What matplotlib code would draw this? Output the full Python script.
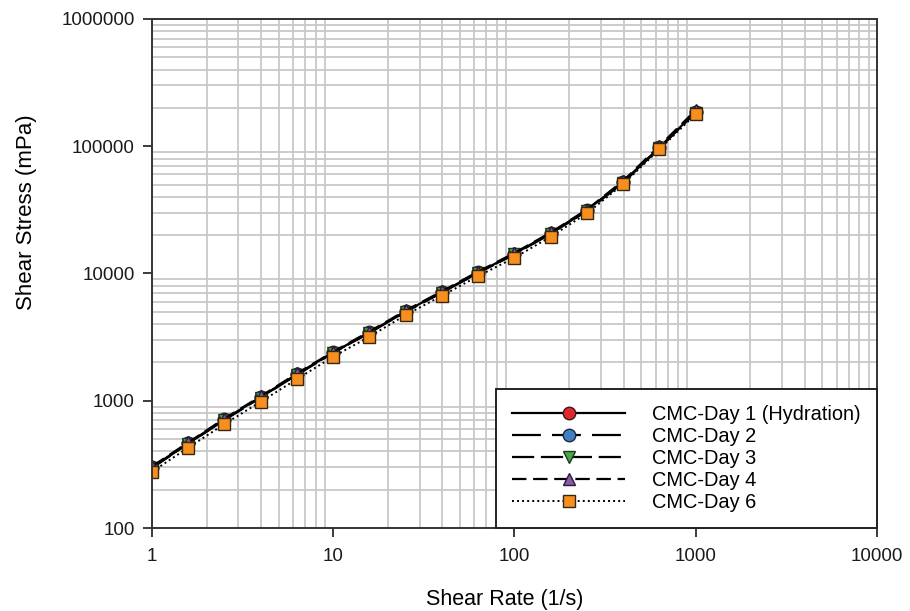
import matplotlib
matplotlib.use("Agg")
import matplotlib.pyplot as plt
from matplotlib.ticker import LogLocator, FixedLocator, NullFormatter

plt.rcParams['font.family'] = ['Liberation Sans', 'DejaVu Sans']

# shear rate (1/s)
rate = [1, 1.585, 2.512, 3.981, 6.31, 10, 15.85, 25.12, 39.81, 63.1,
        100, 158.5, 251.2, 398.1, 631, 1000]

# shear stress (mPa)
day1 = [300, 465, 715, 1070, 1620, 2400, 3450, 5050, 7150, 10200,
        14300, 20800, 31500, 52500, 98000, 186000]
day2 = [298, 462, 710, 1065, 1610, 2390, 3430, 5020, 7100, 10150,
        14200, 20600, 31200, 52000, 97500, 185000]
day3 = [296, 460, 705, 1060, 1600, 2380, 3420, 5000, 7080, 10100,
        14150, 20500, 31000, 51800, 97000, 184000]
day4 = [305, 470, 725, 1085, 1640, 2430, 3500, 5120, 7250, 10350,
        14500, 21000, 31800, 53500, 100500, 192000]
day6 = [277, 428, 656, 983, 1480, 2220, 3190, 4720, 6690, 9550,
        13300, 19450, 29700, 50500, 94600, 179000]

labels = ['CMC-Day 1 (Hydration)', 'CMC-Day 2', 'CMC-Day 3', 'CMC-Day 4', 'CMC-Day 6']

fig = plt.figure(figsize=(9.1, 6.11), dpi=100)
ax = fig.add_axes([0.167, 0.1358, 0.7967, 0.8332])

lw = 1.6
ax.plot(rate, day1, color='black', lw=lw, marker='o', ms=9,
        mfc='#e3262b', mec='#3a1a1a', mew=1.0, label=labels[0])
ax.plot(rate, day2, color='black', lw=lw, dashes=(13, 5), marker='o', ms=9,
        mfc='#3f7fc2', mec='#1c2a3a', mew=1.0, label=labels[1])
ax.plot(rate, day3, color='black', lw=lw, dashes=(10, 3), marker='v', ms=9,
        mfc='#45a84b', mec='#1c3a1c', mew=1.0, label=labels[2])
ax.plot(rate, day4, color='black', lw=lw, dashes=(6.5, 3), marker='^', ms=9,
        mfc='#8a5aa6', mec='#2a1a3a', mew=1.0, label=labels[3])
ax.plot(rate, day6, color='black', lw=1.4, dashes=(1, 1.6), marker='s', ms=9,
        mfc='#f5901e', mec='#3a2410', mew=1.0, label=labels[4])

ax.set_xscale('log')
ax.set_yscale('log')
ax.set_xlim(1, 10000)
ax.set_ylim(100, 1000000)

ax.xaxis.set_major_locator(FixedLocator([1, 10, 100, 1000, 10000]))
ax.yaxis.set_major_locator(FixedLocator([100, 1000, 10000, 100000, 1000000]))
ax.xaxis.set_minor_locator(LogLocator(base=10, subs=range(2, 10)))
ax.yaxis.set_minor_locator(LogLocator(base=10, subs=range(2, 10)))
ax.xaxis.set_minor_formatter(NullFormatter())
ax.yaxis.set_minor_formatter(NullFormatter())
ax.set_xticklabels(['1', '10', '100', '1000', '10000'])
ax.set_yticklabels(['100', '1000', '10000', '100000', '1000000'])

ax.grid(which='minor', color='#c8c8c8', lw=1.3)
ax.grid(which='major', visible=False)
ax.set_axisbelow(True)
ax.tick_params(which='major', direction='out', length=6.5, width=1.2,
               labelsize=13.5, colors='#1a1a1a')
ax.tick_params(axis='x', pad=8)
ax.tick_params(axis='y', pad=6)
ax.tick_params(which='minor', length=0)
for s in ax.spines.values():
    s.set_linewidth(1.4)
    s.set_color('#333333')

ax.set_xlabel('Shear Rate (1/s)', fontsize=15.5)
ax.xaxis.set_label_coords(0.487, -0.12)
ax.set_ylabel('Shear Stress (mPa)', fontsize=16)
ax.yaxis.set_label_coords(-0.159, 0.62)

leg = ax.legend(loc='lower right', bbox_to_anchor=(1, 0), borderaxespad=0,
                fontsize=14.4, handlelength=5.65, handletextpad=1.35,
                labelspacing=0.15, borderpad=0.8, fancybox=False,
                framealpha=1, edgecolor='#222222')
leg.get_frame().set_linewidth(1.4)

fig.savefig('out.png', dpi=100)
